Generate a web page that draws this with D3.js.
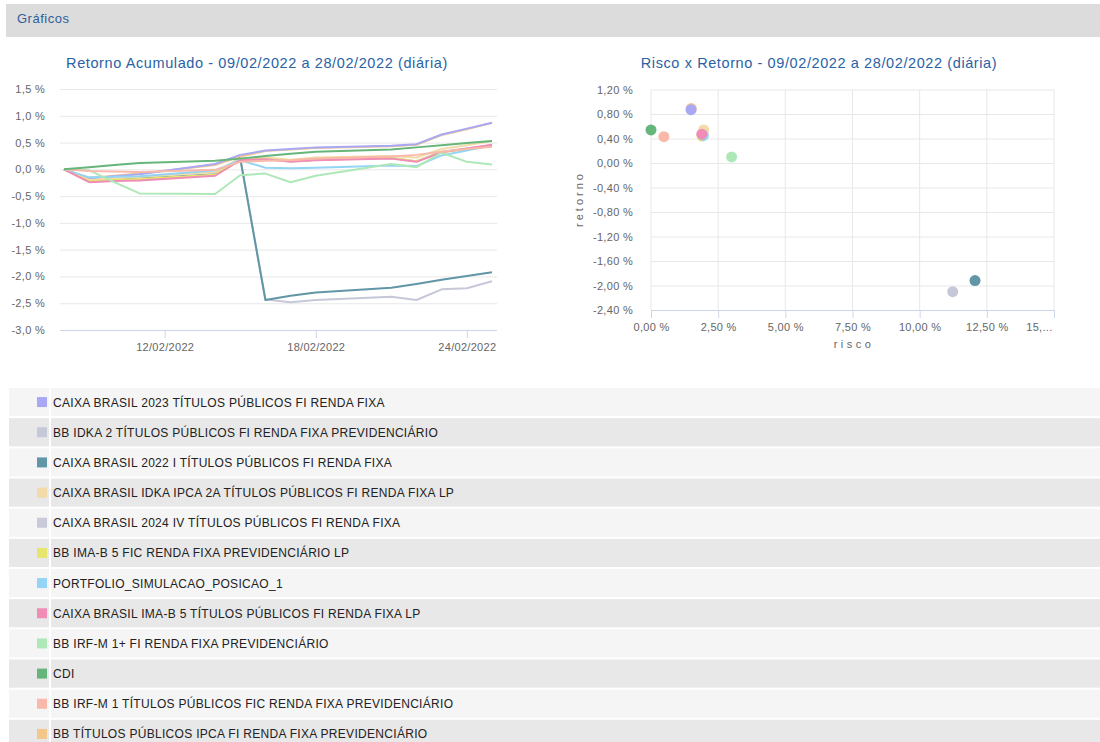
<!DOCTYPE html>
<html><head><meta charset="utf-8">
<script src="https://cdn.jsdelivr.net/npm/d3@7"></script>
<style>
body{margin:0;background:#fff;font-family:"Liberation Sans",Arial,sans-serif;}
svg{display:block;}
</style></head>
<body>
<svg id="c" width="1100" height="742"></svg>
<script>
// ---------- DATA ----------
const dates = ["2022-02-08","2022-02-09","2022-02-10","2022-02-11","2022-02-14","2022-02-15","2022-02-16","2022-02-17","2022-02-18","2022-02-21","2022-02-22","2022-02-23","2022-02-24","2022-02-25"];
const seriesNames = [
  "CAIXA BRASIL 2023 TÍTULOS PÚBLICOS FI RENDA FIXA",
  "BB IDKA 2 TÍTULOS PÚBLICOS FI RENDA FIXA PREVIDENCIÁRIO",
  "CAIXA BRASIL 2022 I TÍTULOS PÚBLICOS FI RENDA FIXA",
  "CAIXA BRASIL IDKA IPCA 2A TÍTULOS PÚBLICOS FI RENDA FIXA LP",
  "CAIXA BRASIL 2024 IV TÍTULOS PÚBLICOS FI RENDA FIXA",
  "BB IMA-B 5 FIC RENDA FIXA PREVIDENCIÁRIO LP",
  "PORTFOLIO_SIMULACAO_POSICAO_1",
  "CAIXA BRASIL IMA-B 5 TÍTULOS PÚBLICOS FI RENDA FIXA LP",
  "BB IRF-M 1+ FI RENDA FIXA PREVIDENCIÁRIO",
  "CDI",
  "BB IRF-M 1 TÍTULOS PÚBLICOS FIC RENDA FIXA PREVIDENCIÁRIO",
  "BB TÍTULOS PÚBLICOS IPCA FI RENDA FIXA PREVIDENCIÁRIO"
];
const seriesColors = ["#a8a8f5","#c6c8d9","#6196a6","#f2dba8","#c9cad9","#e6e66c","#94d4f5","#f08cb6","#aee8b8","#66b57a","#f8b9aa","#f3c68a"];
// accumulated return (%) per date
const retCaixa2023   = [0,-0.17,-0.13,-0.09,0.10,0.27,0.35,0.38,0.41,0.44,0.47,0.65,0.76,0.87];
const retBBIdka2     = [0,-0.22,-0.20,-0.18,-0.10,0.20,-2.43,-2.48,-2.44,-2.38,-2.44,-2.24,-2.22,-2.09];
const retCaixa2022   = [0,-0.21,-0.19,-0.17,-0.09,0.21,-2.44,-2.36,-2.30,-2.21,-2.14,-2.06,-1.99,-1.92];
const retCaixaIdka   = [0,-0.20,-0.17,-0.14,-0.05,0.20,0.22,0.18,0.22,0.25,0.22,0.38,0.45,0.53];
const retCaixa2024   = [0,-0.23,-0.21,-0.19,-0.11,0.17,0.19,0.15,0.18,0.21,0.15,0.33,0.39,0.45];
const retBBImab5     = [0,-0.22,-0.20,-0.18,-0.10,0.18,0.19,0.15,0.18,0.21,0.15,0.32,0.38,0.44];
const retPortfolio   = [0,-0.15,-0.14,-0.13,-0.02,0.17,0.03,0.02,0.03,0.07,0.06,0.26,0.35,0.45];
const retCaixaImab5  = [0,-0.24,-0.22,-0.21,-0.12,0.17,0.19,0.14,0.17,0.20,0.14,0.32,0.39,0.46];
const retBBIrfm1p    = [0,-0.02,-0.24,-0.45,-0.46,-0.11,-0.08,-0.24,-0.12,0.10,0.04,0.31,0.14,0.09];
const retCDI         = [0,0.04,0.08,0.12,0.16,0.20,0.25,0.29,0.33,0.37,0.41,0.45,0.49,0.53];
const retBBIrfm1     = [0,-0.03,-0.04,-0.05,-0.01,0.14,0.16,0.17,0.20,0.24,0.27,0.33,0.38,0.42];
const retBBTitIpca   = [0,-0.16,-0.12,-0.08,0.08,0.24,0.34,0.37,0.40,0.43,0.46,0.64,0.75,0.87];
const lineValues = [retCaixa2023,retBBIdka2,retCaixa2022,retCaixaIdka,retCaixa2024,retBBImab5,retPortfolio,retCaixaImab5,retBBIrfm1p,retCDI,retBBIrfm1,retBBTitIpca];
// risk x return scatter (%)
const risco   = [1.49,11.23,12.06,1.96,1.92,1.90,1.95,1.89,3.00,0.00,0.48,1.50];
const retorno = [0.87,-2.10,-1.92,0.54,0.45,0.44,0.45,0.47,0.10,0.54,0.43,0.89];
// drawing order (bottom to top)
const drawOrder = [11,0,1,2,3,4,5,6,7,8,10,9];
const scatterOrder = [11,0,1,2,3,4,5,6,7,8,9,10];
// ticks
const lineYTicks = [1.5,1.0,0.5,0.0,-0.5,-1.0,-1.5,-2.0,-2.5,-3.0];
const lineXTicks = ["2022-02-12","2022-02-18","2022-02-24"];
const scYTicks = [1.2,0.8,0.4,0,-0.4,-0.8,-1.2,-1.6,-2.0,-2.4];
const scXTicks = [0,2.5,5,7.5,10,12.5,15];

// ---------- DRAW ----------
const svg = d3.select("#c");
const fmt = (v,d)=> d3.format("."+d+"f")(v).replace("−","-").replace(".",",") + " %";
const tickStyle = sel => sel.attr("font-size",11).attr("letter-spacing",0.3).attr("fill","#666").attr("font-family","Liberation Sans, Arial");

// header
svg.append("rect").attr("x",6).attr("y",4).attr("width",1094).attr("height",33).attr("fill","#dcdcdc");
svg.append("text").attr("x",17).attr("y",23).attr("font-size",13).attr("letter-spacing",0.5).attr("fill","#2f5d9a").text("Gráficos");

// ---- line chart ----
const parse = d3.timeParse("%Y-%m-%d");
const L = {l:60,r:497,t:89,b:330};
const x = d3.scaleTime().domain([parse("2022-02-08"),parse("2022-02-25")]).range([64,492]);
const y = d3.scaleLinear().domain([-3,1.5]).range([L.b,L.t]);
const gL = svg.append("g");
gL.append("text").attr("x",257).attr("y",68).attr("text-anchor","middle").attr("font-size",14.5).attr("letter-spacing",0.6).attr("fill","#2a62a6")
  .text("Retorno Acumulado - 09/02/2022 a 28/02/2022 (diária)");
const yAxL = d3.axisLeft(y).tickValues(lineYTicks).tickSize(-(L.r-L.l)).tickFormat(d=>fmt(d,1)).tickPadding(15);
const gy = gL.append("g").attr("transform",`translate(${L.l},0)`).call(yAxL);
gy.select(".domain").remove();
gy.selectAll(".tick line").attr("stroke","#e8e8e8");
gy.selectAll(".tick text").call(tickStyle);
const xAxL = d3.axisBottom(x).tickValues(lineXTicks.map(parse)).tickFormat(d3.timeFormat("%d/%m/%Y")).tickSize(8).tickPadding(5);
const gx = gL.append("g").attr("transform",`translate(0,${L.b})`).call(xAxL);
gx.select(".domain").attr("d",`M${L.l},0.5H${L.r}`).attr("stroke","#ccd6eb");
gx.selectAll(".tick line").attr("stroke","#ccd6eb");
gx.selectAll(".tick text").call(tickStyle);
const line = d3.line().x((d,i)=>x(parse(dates[i]))).y(d=>y(d));
drawOrder.forEach(i=>{
  gL.append("path").attr("d",line(lineValues[i])).attr("fill","none").attr("stroke",seriesColors[i]).attr("stroke-width",2).attr("stroke-linejoin","round");
});

// ---- scatter ----
const S = {l:651,r:1054,t:89.5,b:310};
const sx = d3.scaleLinear().domain([0,15]).range([S.l,S.r]);
const sy = d3.scaleLinear().domain([-2.4,1.2]).range([S.b,S.t]);
const gS = svg.append("g");
gS.append("text").attr("x",819).attr("y",68).attr("text-anchor","middle").attr("font-size",14.5).attr("letter-spacing",0.6).attr("fill","#2a62a6")
  .text("Risco x Retorno - 09/02/2022 a 28/02/2022 (diária)");
const syAx = d3.axisLeft(sy).tickValues(scYTicks).tickSize(-(S.r-S.l)).tickFormat(d=>fmt(d,2)).tickPadding(18);
const gsy = gS.append("g").attr("transform",`translate(${S.l},0)`).call(syAx);
gsy.select(".domain").remove();
gsy.selectAll(".tick line").attr("stroke","#e8e8e8");
gsy.selectAll(".tick text").call(tickStyle);
gS.append("g").selectAll("line").data(scXTicks).join("line")
  .attr("x1",d=>sx(d)).attr("x2",d=>sx(d)).attr("y1",S.t).attr("y2",S.b).attr("stroke","#e8e8e8");
const sxAx = d3.axisBottom(sx).tickValues(scXTicks).tickSize(8).tickPadding(5)
  .tickFormat(d=> d===15 ? "15,..." : fmt(d,2));
const gsx = gS.append("g").attr("transform",`translate(0,${S.b})`).call(sxAx);
gsx.select(".domain").attr("d",`M${S.l},0.5H${S.r}`).attr("stroke","#ccd6eb");
gsx.selectAll(".tick line").attr("stroke","#ccd6eb");
gsx.selectAll(".tick text").call(tickStyle);
gsx.selectAll(".tick text").filter(d=>d===15).attr("text-anchor","end").attr("dx",-2);
gS.append("text").attr("transform",`translate(583,199) rotate(-90)`).attr("text-anchor","middle")
  .attr("font-size",11).attr("letter-spacing",3).attr("fill","#666").text("retorno");
gS.append("text").attr("x",854).attr("y",348).attr("text-anchor","middle")
  .attr("font-size",11).attr("letter-spacing",3.5).attr("fill","#666").text("risco");
gS.append("g").selectAll("circle").data(scatterOrder).join("circle")
  .attr("cx",i=>sx(risco[i])).attr("cy",i=>sy(retorno[i])).attr("r",5.5).attr("fill",i=>seriesColors[i]);

// ---- legend table ----
const rowY = d3.scaleBand().domain(d3.range(seriesNames.length)).range([388,750]).paddingInner(0);
const gLeg = svg.append("g");
seriesNames.forEach((name,i)=>{
  const y0 = rowY(i), h = rowY.bandwidth()-2;
  const bg = i%2===0 ? "#f5f5f5" : "#e8e8e8";
  gLeg.append("rect").attr("x",9).attr("y",y0).attr("width",40).attr("height",h).attr("fill",bg);
  gLeg.append("rect").attr("x",51).attr("y",y0).attr("width",1049).attr("height",h).attr("fill",bg);
  gLeg.append("rect").attr("x",37).attr("y",y0+h/2-5).attr("width",10).attr("height",10).attr("fill",seriesColors[i]);
  gLeg.append("text").attr("x",53).attr("y",y0+h/2+4.5).attr("font-size",12).attr("letter-spacing",0.3).attr("fill","#222").text(name);
});
</script>
</body></html>
